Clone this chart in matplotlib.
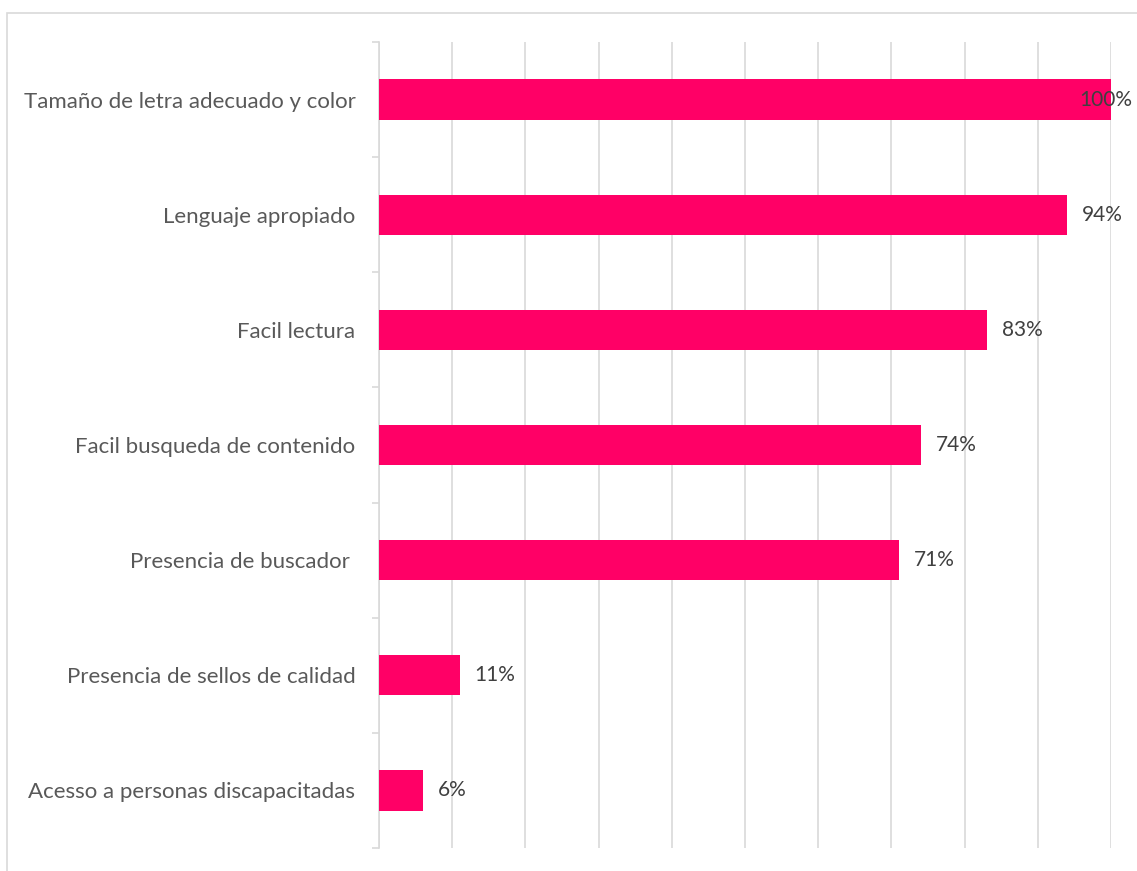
import matplotlib
matplotlib.use("Agg")
import matplotlib.pyplot as plt
from matplotlib.patches import Rectangle

categories = [
    "Tamaño de letra adecuado y color",
    "Lenguaje apropiado",
    "Facil lectura",
    "Facil busqueda de contenido",
    "Presencia de buscador ",
    "Presencia de sellos de calidad",
    "Acesso a personas discapacitadas",
]
values = [100, 94, 83, 74, 71, 11, 6]
labels = ["100%", "94%", "83%", "74%", "71%", "11%", "6%"]

W, H = 1137, 871
fig = plt.figure(figsize=(W / 100, H / 100), dpi=100)
plt.rcParams['font.family'] = ['Lato', 'DejaVu Sans']

# figure border (right/bottom edges fall outside the image, as in the reference)
fig.patches.append(Rectangle((7 / W, -0.05), 1.1, (H - 13) / H + 0.05,
                             transform=fig.transFigure, fill=False,
                             edgecolor='#d9d9d9', linewidth=1.2))

x0, x1 = 379, 1111
y_top, y_bot = 42, 848
ax = fig.add_axes([x0 / W, 1 - y_bot / H, (x1 - x0) / W, (y_bot - y_top) / H])

n = len(categories)
ypos = list(range(n))
ax.barh(ypos, values, height=0.35, color='#FF0066', zorder=3)
ax.set_xlim(0, 100)
ax.set_ylim(n - 0.5, -0.5)

ax.set_xticks(range(0, 101, 10))
ax.tick_params(axis='x', length=0, labelbottom=False)
ax.grid(axis='x', color='#d9d9d9', linewidth=1.2, zorder=0)
ax.set_axisbelow(True)

ax.set_yticks(ypos)
ax.set_yticklabels(categories, fontsize=16, color='#595959')
ax.tick_params(axis='y', length=0, pad=17)
ax.set_yticks([i - 0.5 for i in range(n + 1)], minor=True)
ax.tick_params(axis='y', which='minor', length=5, color='#d9d9d9', width=1.2)

for s in ['top', 'right', 'bottom']:
    ax.spines[s].set_visible(False)
ax.spines['left'].set_color('#d9d9d9')
ax.spines['left'].set_linewidth(1.2)

for i, (v, lab) in enumerate(zip(values, labels)):
    if v >= 100:
        ax.text(95.6, i, lab, va='center', ha='left', fontsize=15, color='#404040', zorder=4)
    else:
        ax.annotate(lab, (v, i), xytext=(15, 0), textcoords='offset pixels',
                    va='center', ha='left', fontsize=15, color='#404040', zorder=4)

fig.savefig("out.png", dpi=100)
